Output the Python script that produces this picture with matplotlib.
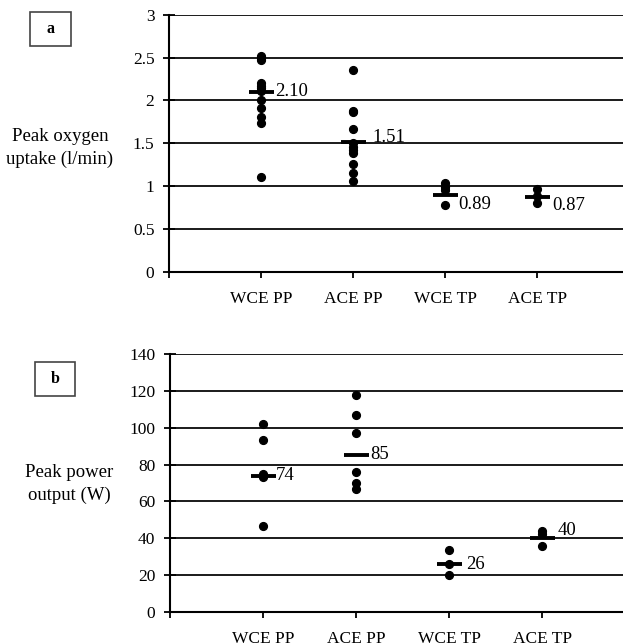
import matplotlib
matplotlib.use("Agg")
from matplotlib import pyplot as plt
from matplotlib.patches import Rectangle

plt.rcParams['font.family'] = ['Liberation Serif', 'DejaVu Serif']

groups = ['WCE PP', 'ACE PP', 'WCE TP', 'ACE TP']

# panel a: peak oxygen uptake (l/min)
vo2_wce_pp = [2.52, 2.49, 2.47, 2.20, 2.17, 2.14, 2.11, 2.00, 1.91, 1.80, 1.73, 1.11]
vo2_ace_pp = [2.35, 1.88, 1.86, 1.67, 1.50, 1.46, 1.42, 1.38, 1.26, 1.15, 1.06]
vo2_wce_tp = [1.04, 0.99, 0.95, 0.78]
vo2_ace_tp = [0.96, 0.88, 0.80]
vo2_means = [2.10, 1.51, 0.89, 0.87]
vo2_ticks = [0, 0.5, 1, 1.5, 2, 2.5, 3]
vo2_ticklabels = ['0', '0.5', '1', '1.5', '2', '2.5', '3']

# panel b: peak power output (W)
pow_wce_pp = [102, 93.5, 75, 74, 73, 46.7]
pow_ace_pp = [117.6, 107, 97.3, 75.8, 70.2, 66.5]
pow_wce_tp = [33.8, 25.8, 20.2]
pow_ace_tp = [44, 42.5, 35.6]
pow_means = [74, 85, 26, 40]
pow_ticks = [0, 20, 40, 60, 80, 100, 120, 140]

FS = 12.5
FS_BIG = 13.5


def style_axis(ax, ticks, ticklabels, ymax, xmax):
    ax.set_xlim(0, xmax)
    ax.set_ylim(0, ymax)
    ax.set_yticks(ticks)
    ax.set_yticklabels(ticklabels, fontsize=FS)
    ax.xaxis.set_ticks([0] + list(range(1, len(groups) + 1)))
    ax.set_xticklabels([''] + groups, fontsize=FS)
    for s in ['top', 'right']:
        ax.spines[s].set_visible(False)
    ax.spines['left'].set_linewidth(1.5)
    ax.spines['bottom'].set_linewidth(1.5)
    ax.tick_params(axis='y', direction='inout', length=9, width=1.3, pad=6)
    ax.tick_params(axis='x', direction='out', length=4, width=1.3, pad=10)
    for t in ticks[1:]:
        ax.axhline(t, color='#1a1a1a', lw=1.4, zorder=1)


def draw_points(ax, series, means, offsets, fmt):
    for i, vals in enumerate(series):
        x = i + 1
        ax.plot([x] * len(vals), vals, 'o', color='black', ms=5.6, zorder=3)
        ax.plot(x, means[i], marker='_', color='black', ms=18, mew=2.8, zorder=4)
        dx, dy = offsets[i]
        ax.annotate(fmt.format(means[i]), (x, means[i]),
                    xytext=(dx, dy), textcoords='offset pixels',
                    ha='left', va='center', fontsize=FS_BIG)


fig = plt.figure(figsize=(6.23, 6.44), dpi=100)

ax1 = fig.add_axes([0.2713, 0.5781, 0.7287, 0.3991])
style_axis(ax1, vo2_ticks, vo2_ticklabels, 3, 4.93)
draw_points(ax1, [vo2_wce_pp, vo2_ace_pp, vo2_wce_tp, vo2_ace_tp], vo2_means,
            [(14, 0), (19, 5), (13, -9), (15, -8)], '{:.2f}')

ax2 = fig.add_axes([0.2729, 0.0497, 0.7271, 0.4006])
style_axis(ax2, pow_ticks, [str(t) for t in pow_ticks], 140, 4.87)
draw_points(ax2, [pow_wce_pp, pow_ace_pp, pow_wce_tp, pow_ace_tp], pow_means,
            [(13, 0), (14, 1), (17, 0), (16, 8)], '{:.0f}')

# y-axis titles
fig.text(60 / 623, 1 - 148 / 644, 'Peak oxygen\nuptake (l/min)', ha='center',
         va='center', fontsize=FS_BIG, linespacing=1.45)
fig.text(69 / 623, 1 - 484 / 644, 'Peak power\noutput (W)', ha='center',
         va='center', fontsize=FS_BIG, linespacing=1.45)

# panel letter boxes
for (x0, y0, x1, y1, letter) in [(30, 12, 71, 46, 'a'), (35, 362, 75, 396, 'b')]:
    fig.patches.append(Rectangle((x0 / 623, 1 - y1 / 644), (x1 - x0) / 623,
                                 (y1 - y0) / 644, transform=fig.transFigure,
                                 fill=False, edgecolor='#444444', lw=1.2))
    fig.text((x0 + x1) / 2 / 623, 1 - (y0 + y1) / 2 / 644, letter, ha='center',
             va='center', fontsize=11.5, fontweight='bold')

fig.savefig('out.png', dpi=100)
